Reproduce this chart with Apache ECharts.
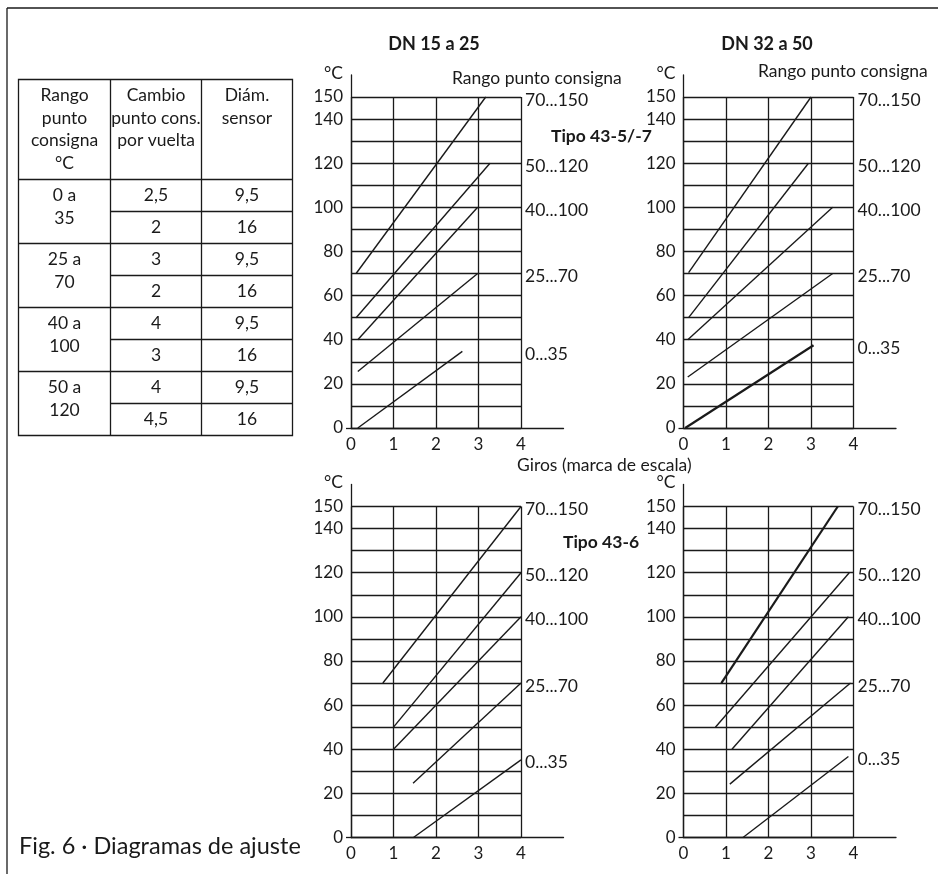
<!DOCTYPE html>
<html><head><meta charset="utf-8">
<script src="https://cdn.jsdelivr.net/npm/echarts@6/dist/echarts.min.js"></script>
<style>html,body{margin:0;padding:0;background:#fff}#c{width:938px;height:874px}</style>
</head><body><div id="c"></div>
<script>
// ---------------- data ----------------
const xTickValues = [0, 1, 2, 3, 4];
const yLabelValues = [0, 20, 40, 60, 80, 100, 120, 140, 150];
const rangeNames = ['70...150', '50...120', '40...100', '25...70', '0...35'];
const panelTitles = ['DN 15 a 25', 'DN 32 a 50'];
const typeNames = ['Tipo 43-5/-7', 'Tipo 43-6'];
const xAxisName = 'Giros (marca de escala)';
const rangeTitle = 'Rango punto consigna';
const yUnit = '°C';
const caption = 'Fig. 6 · Diagramas de ajuste';
// each line: [turns start, °C start, turns end, °C end] in rangeNames order
const linesTL = [[0.12, 70, 3.17, 150], [0.12, 50, 3.27, 120], [0.16, 40, 2.98, 100], [0.16, 25.6, 2.98, 70], [0.16, 0, 2.62, 34.7]];
const linesTR = [[0.12, 70.4, 3.0, 150], [0.12, 50, 2.94, 120], [0.10, 40, 3.51, 100], [0.10, 23.1, 3.51, 70], [0.04, 0, 3.06, 37.5]];
const linesBL = [[0.75, 70, 4.0, 150], [1.0, 50, 4.0, 120], [1.0, 40, 4.0, 100], [1.46, 24.6, 4.0, 70], [1.47, 0, 4.0, 35.2]];
const linesBR = [[0.89, 70, 3.63, 150], [0.75, 50, 3.9, 120], [1.14, 40, 3.88, 100], [1.09, 24.2, 3.93, 70], [1.40, 0, 3.88, 36.7]];
const tableHeader = ['Rango\npunto\nconsigna\n°C', 'Cambio\npunto cons.\npor vuelta', 'Diám.\nsensor'];
const tableRanges = ['0 a\n35', '25 a\n70', '40 a\n100', '50 a\n120'];
const tableChange = ['2,5', '2', '3', '2', '4', '3', '4', '4,5'];
const tableDiam = ['9,5', '16', '9,5', '16', '9,5', '16', '9,5', '16'];

// ---------------- layout / style ----------------
const FONT = 'Lato, "Noto Sans", sans-serif';
const INK = '#1a1a1a';
const TXT = '#1a1a1a';
const FS = 17.5;
const W = 170, H = 331;
const panels = [
  { lines: linesTL, left: 351, top: 97, thick: [] },
  { lines: linesTR, left: 683.5, top: 97, thick: [4] },
  { lines: linesBL, left: 351, top: 506.5, thick: [] },
  { lines: linesBR, left: 683.5, top: 506.5, thick: [0] }
];

const grid = [], xAxis = [], yAxis = [], series = [];
panels.forEach((p, i) => {
  grid.push({ left: p.left, top: p.top, width: W, height: H });
  xAxis.push({
    type: 'value', gridIndex: i, min: 0, max: 4, interval: 1,
    axisLine: { show: false }, axisTick: { show: false },
    axisLabel: { show: true, margin: 8, color: TXT, fontSize: 17, fontFamily: FONT, customValues: xTickValues },
    splitLine: { show: true, lineStyle: { color: INK, width: 1.3 } }
  });
  yAxis.push({
    type: 'value', gridIndex: i, min: 0, max: 150, interval: 10,
    axisLine: { show: false }, axisTick: { show: false },
    axisLabel: { show: true, margin: 8, color: TXT, fontSize: 17, fontFamily: FONT, customValues: yLabelValues },
    splitLine: { show: true, lineStyle: { color: INK, width: 1.3 } }
  });
});
panels.forEach((p, i) => {
  const fi = i + 4;
  grid.push({ left: p.left, top: p.top - H * 10 / 150, width: W * 1.25, height: H * 160 / 150 });
  xAxis.push({
    type: 'value', gridIndex: fi, min: 0, max: 5,
    axisLine: { show: true, lineStyle: { color: INK, width: 1.3 } },
    axisTick: { show: false }, axisLabel: { show: false }, splitLine: { show: false }
  });
  yAxis.push({
    type: 'value', gridIndex: fi, min: 0, max: 160,
    axisLine: { show: true, lineStyle: { color: INK, width: 1.3 } },
    axisTick: { show: true, length: 5, customValues: [0], lineStyle: { color: INK, width: 1.3 } },
    axisLabel: { show: false }, splitLine: { show: false },
    name: yUnit, nameLocation: 'end', nameGap: 2,
    nameTextStyle: { color: TXT, fontSize: FS, fontFamily: FONT, align: 'right', verticalAlign: 'middle', padding: [0, 8, 0, 0] }
  });
});

panels.forEach((p, i) => {
  p.lines.forEach((ln, k) => {
    series.push({
      type: 'line', xAxisIndex: i, yAxisIndex: i, name: rangeNames[k],
      data: [[ln[0], ln[1]], [ln[2], ln[3]]],
      symbol: 'none', silent: true, animation: false, clip: false,
      lineStyle: { color: INK, width: p.thick.includes(k) ? 2.2 : 1.4 }
    });
  });
  series.push({
    type: 'scatter', xAxisIndex: i, yAxisIndex: i, symbolSize: 0, silent: true, animation: false,
    itemStyle: { opacity: 1, color: INK },
    data: p.lines.map((ln, k) => [4, ln[3], rangeNames[k]]),
    label: { show: true, position: 'right', distance: 4, offset: [0, 3], formatter: d => d.data[2],
      color: TXT, opacity: 1, fontSize: FS, fontFamily: FONT }
  });
});

// ---------------- graphics: text + table ----------------
function txt(x, y, text, o = {}) {
  return { type: 'text', x, y, silent: true, style: {
    text, fill: TXT, fontSize: o.size || FS, fontFamily: FONT, fontWeight: o.weight || 'normal',
    align: o.align || 'left', textAlign: o.align || 'left',
    verticalAlign: o.va || 'middle', textVerticalAlign: o.va || 'middle',
    lineHeight: o.lh || undefined } };
}
function line(x1, y1, x2, y2, w) {
  return { type: 'line', silent: true, shape: { x1, y1, x2, y2 }, style: { stroke: INK, lineWidth: w || 1.3 } };
}
const g = [];
// frame
g.push(line(7, 8, 938, 8), line(7, 8, 7, 874));
// titles
g.push(txt(434, 44, panelTitles[0], { weight: 'bold', align: 'center', size: 18 }));
g.push(txt(767, 44, panelTitles[1], { weight: 'bold', align: 'center', size: 18 }));
g.push(txt(452, 78, rangeTitle));
g.push(txt(758, 71, rangeTitle));
g.push(txt(551, 136, typeNames[0], { weight: 'bold', size: 17.5 }));
g.push(txt(563, 542, typeNames[1], { weight: 'bold', size: 17.5 }));
g.push(txt(517, 465, xAxisName));
g.push(txt(19, 846, caption, { size: 23.5 }));
// table
const T = { l: 18.5, r: 292.5, c1: 110.5, c2: 201.5, top: 79.5, hb: 179.5, rh: 32 };
const tBottom = T.hb + tableChange.length * T.rh;
g.push({ type: 'rect', silent: true, shape: { x: T.l, y: T.top, width: T.r - T.l, height: tBottom - T.top },
  style: { fill: 'none', stroke: INK, lineWidth: 1.3 } });
g.push(line(T.c1, T.top, T.c1, tBottom), line(T.c2, T.top, T.c2, tBottom), line(T.l, T.hb, T.r, T.hb));
for (let i = 1; i < tableChange.length; i++) {
  const y = T.hb + i * T.rh;
  g.push(line(i % 2 ? T.c1 : T.l, y, T.r, y));
}
const colC = [(T.l + T.c1) / 2, (T.c1 + T.c2) / 2, (T.c2 + T.r) / 2];
tableHeader.forEach((h, j) => g.push(txt(colC[j], T.top + 4.5, h, { align: 'center', va: 'top', lh: 22.7 })));
tableRanges.forEach((r, gi) => g.push(txt(colC[0], T.hb + gi * 2 * T.rh + 4.5, r, { align: 'center', va: 'top', lh: 22.7 })));
tableChange.forEach((v, i) => g.push(txt(colC[1], T.hb + i * T.rh + T.rh / 2, v, { align: 'center' })));
tableDiam.forEach((v, i) => g.push(txt(colC[2], T.hb + i * T.rh + T.rh / 2, v, { align: 'center' })));

const chart = echarts.init(document.getElementById('c'), null, { renderer: 'canvas' });
chart.setOption({
  backgroundColor: '#fff', animation: false,
  textStyle: { fontFamily: FONT },
  grid, xAxis, yAxis, series, graphic: g
});
</script></body></html>
